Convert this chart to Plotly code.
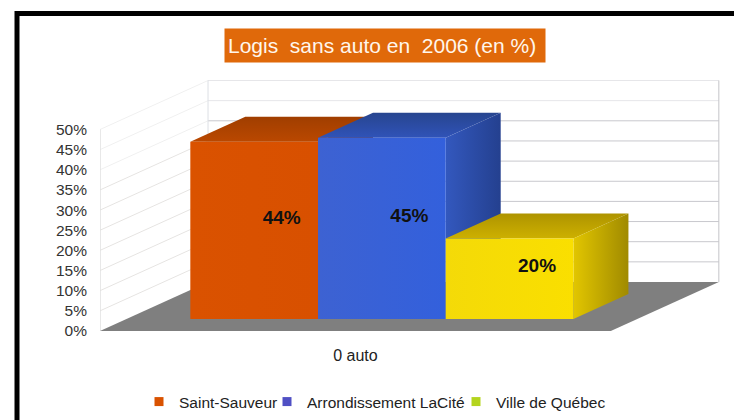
import plotly.graph_objects as go

# ---- data
category = "0 auto"
series_names = ["Saint-Sauveur", "Arrondissement LaCité", "Ville de Québec"]
series_values = [44, 45, 20]
value_ticks = [0, 5, 10, 15, 20, 25, 30, 35, 40, 45, 50]
title_text = "Logis\u00a0\u00a0sans auto en\u00a0\u00a02006 (en %)\u00a0"

legend_colors = ["#D95200", "#5050C4", "#B4D41E"]
legend_left_px = [139, 267, 456]
front_colors = [["#DA5200", "#D85000"], ["#3D62D2", "#3360DC"], ["#F4DA08", "#FADF00"]]
side_colors = [["#B04400", "#8E3800"], ["#3358BE", "#24408F"], ["#E2C600", "#A08A00"]]
top_colors = [["#A03E00", "#BA4800"], ["#27458F", "#3053B8"], ["#AE9400", "#CDB000"]]

# ---- oblique projection of the 3D box onto the 2D axes
DEPTH_X = 0.846   # bar widths per unit of depth
DEPTH_Y = 12.16   # percent points per unit of depth
FLOOR_HALF = 2.0
BAR_NEAR, BAR_FAR = 0.245, 0.754


def proj(x, v, d):
    return x + d * DEPTH_X, v + d * DEPTH_Y


def face(points):
    pts = [proj(*p) for p in points] + [proj(*points[0])]
    return [p[0] for p in pts], [p[1] for p in pts]


def poly(points, color=None, grad=None, direction="horizontal"):
    xs, ys = face(points)
    kw = dict(x=xs, y=ys, mode="lines", line=dict(width=0), fill="toself",
              showlegend=False, hoverinfo="skip")
    if grad:
        kw["fillgradient"] = dict(type=direction, colorscale=[[0, grad[0]], [1, grad[1]]])
    else:
        kw["fillcolor"] = color
    return go.Scatter(**kw)


def segment(points, color, width=1):
    xs, ys = zip(*[proj(*p) for p in points])
    return go.Scatter(x=xs, y=ys, mode="lines", line=dict(color=color, width=width),
                      showlegend=False, hoverinfo="skip")


fig = go.Figure()
top_tick = max(value_ticks)

# gridlines on back and side walls
for t in value_ticks[1:]:
    fig.add_trace(segment([(-FLOOR_HALF, t, 1), (FLOOR_HALF, t, 1)], "#C8C8CD" if t < 45 else "#E6E6E9"))
    fig.add_trace(segment([(-FLOOR_HALF, t, 0), (-FLOOR_HALF, t, 1)], "#E6E4E2" if t < 40 else "#F0F0F0"))
fig.add_trace(segment([(FLOOR_HALF, 0, 1), (FLOOR_HALF, top_tick, 1)], "#C4C4C8"))
fig.add_trace(segment([(-FLOOR_HALF, 0, 1), (-FLOOR_HALF, top_tick, 1)], "#DCDFE4"))
fig.add_trace(segment([(-FLOOR_HALF, 0, 0), (-FLOOR_HALF, top_tick, 0)], "#E0E0E0", 1.5))

# floor
fig.add_trace(poly([(-FLOOR_HALF, 0, 0), (FLOOR_HALF, 0, 0), (FLOOR_HALF, 0, 1), (-FLOOR_HALF, 0, 1)], color="#7F7F7F"))

# bars, left to right
n = len(series_values)
for i, v in enumerate(series_values):
    x0 = i - n / 2
    x1 = x0 + 1
    fig.add_trace(poly([(x0, v, BAR_NEAR), (x1, v, BAR_NEAR), (x1, v, BAR_FAR), (x0, v, BAR_FAR)],
                       grad=top_colors[i][::-1], direction="vertical"))
    fig.add_trace(poly([(x1, 0, BAR_NEAR), (x1, v, BAR_NEAR), (x1, v, BAR_FAR), (x1, 0, BAR_FAR)],
                       grad=side_colors[i], direction="horizontal"))
    fig.add_trace(poly([(x0, 0, BAR_NEAR), (x1, 0, BAR_NEAR), (x1, v, BAR_NEAR), (x0, v, BAR_NEAR)],
                       grad=front_colors[i], direction="horizontal"))

# value labels
lx, ly = zip(*[proj(i - n / 2 + 0.525, v / 2, 0.47) for i, v in enumerate(series_values)])
fig.add_trace(go.Scatter(x=lx, y=ly, mode="text", text=[f"{v}%" for v in series_values],
                         textfont=dict(family="Liberation Sans", size=19, color="#111111", weight="bold"),
                         textposition="middle center", showlegend=False, hoverinfo="skip", cliponaxis=False))

# legend entries, one legend box each so that the labels sit where the reference has them
legend_ids = ["legend", "legend2", "legend3"]
for name, c, lid in zip(series_names, legend_colors, legend_ids):
    fig.add_trace(go.Scatter(x=[None], y=[None], mode="markers", name=name, legend=lid,
                             marker=dict(symbol="square", size=9, color=c)))

W, H = 734, 420
ML = 100
PX_PER_UNIT_X = 127.7
PX_PER_PCT = 4.03
Y0_PX = 331
XMIN = -FLOOR_HALF
XMAX = XMIN + (W - ML) / PX_PER_UNIT_X
YMAX = Y0_PX / PX_PER_PCT
YMIN = -(H - Y0_PX) / PX_PER_PCT


def px(x_px):
    return (x_px - ML) / (W - ML)


def py(y_px):
    return 1 - y_px / H


def legend_at(left_px):
    return dict(orientation="h", x=px(left_px), xanchor="left", y=py(402), yanchor="middle",
                font=dict(size=15.5, color="#222222"), bgcolor="rgba(0,0,0,0)",
                itemwidth=30, tracegroupgap=0)


fig.update_layout(
    width=W, height=H,
    margin=dict(l=ML, r=0, t=0, b=0, pad=0),
    paper_bgcolor="#FFFFFF", plot_bgcolor="rgba(0,0,0,0)",
    font=dict(family="Liberation Sans", color="#222222", size=14),
    xaxis=dict(range=[XMIN, XMAX], tickmode="array", tickvals=[0], ticktext=[category],
               showgrid=False, zeroline=False, showline=False, ticks="",
               anchor="free", position=py(Y0_PX), ticklabelstandoff=13,
               tickfont=dict(size=16, color="#222222"), fixedrange=True),
    yaxis=dict(range=[YMIN, YMAX], tickmode="array", tickvals=value_ticks,
               ticktext=[f"{t}%" for t in value_ticks],
               showgrid=False, zeroline=False, showline=False, ticks="",
               ticklabelstandoff=12, tickfont=dict(size=15.5, color="#333333"), fixedrange=True),
    legend=legend_at(legend_left_px[0]),
    legend2=legend_at(legend_left_px[1]),
    legend3=legend_at(legend_left_px[2]),
    shapes=[
        dict(type="line", xref="paper", yref="paper", x0=px(17), x1=px(734), y0=py(13.5), y1=py(13.5),
             line=dict(color="#000000", width=5), layer="below"),
        dict(type="line", xref="paper", yref="paper", x0=px(17), x1=px(17), y0=py(11), y1=py(420),
             line=dict(color="#000000", width=5), layer="below"),
    ],
    annotations=[
        dict(text=title_text, xref="paper", yref="paper", x=px(385), y=py(45.5), xanchor="center", yanchor="middle",
             showarrow=False, width=320, height=33, borderpad=0, bgcolor="#E0690A", align="center", valign="middle",
             font=dict(family="Liberation Sans", size=21, color="#FFF6EC")),
    ],
)

fig.write_html("out.html", config={"displayModeBar": False}, post_script="document.body.style.margin='0';")
